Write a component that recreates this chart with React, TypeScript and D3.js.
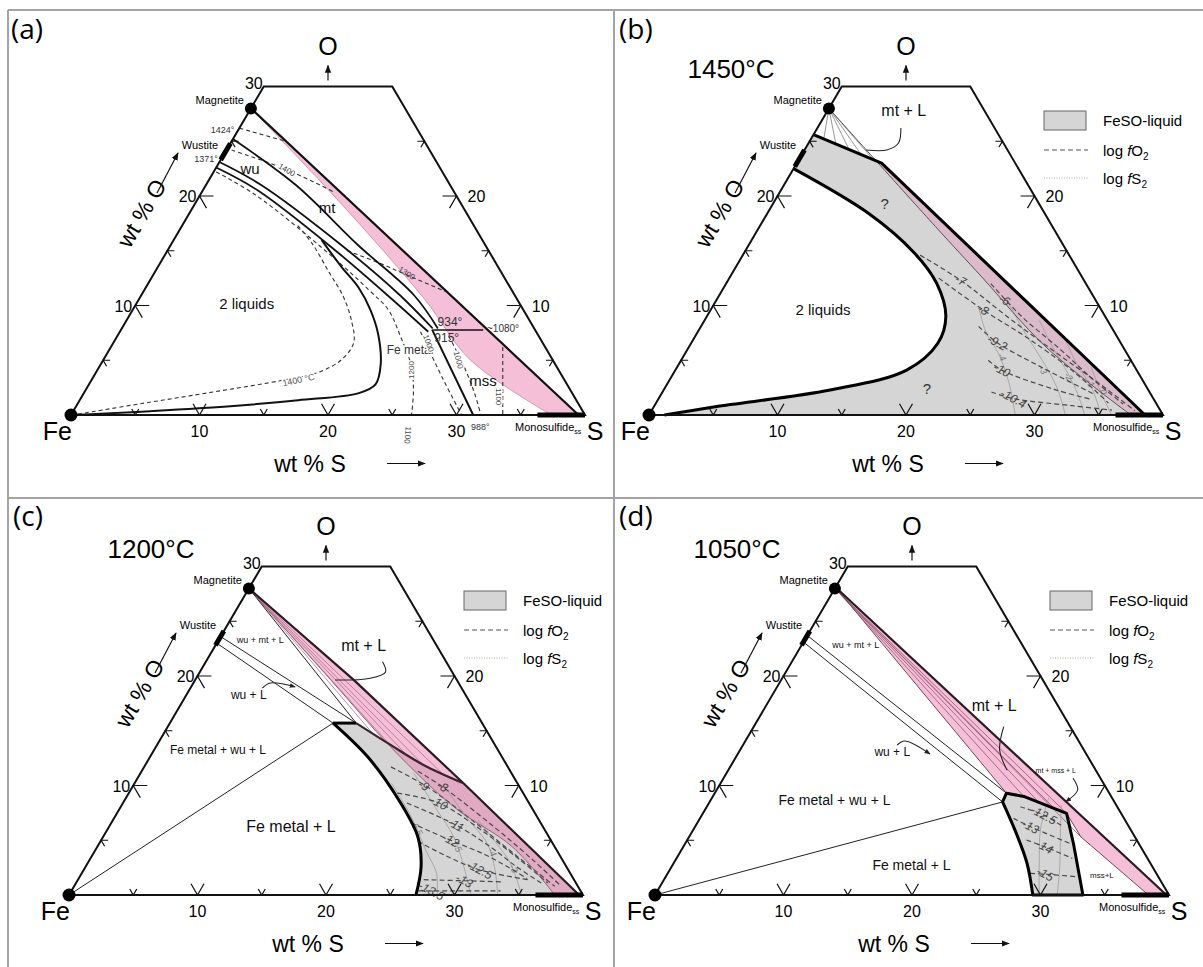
import React from 'react';
import * as d3 from 'd3';

type P = [number, number]; // [wt% S, wt% O]

// ===== shared ternary axes =====
const AXIS_MAX = 40;
const O_CUTOFF = 30;
const BASE_TICKS = [5, 10, 15, 20, 25, 30, 35];
const BASE_LABELS = [10, 20, 30];
const SIDE_TICKS = [5, 10, 15, 20, 25];
const SIDE_LABELS = [10, 20];
const FRAME: P[] = [[0, 0], [0, 30], [10, 30], [40, 0]];
const FE: P = [0, 0];
const S_CORNER: P = [40, 0];
const MAGNETITE: P = [0, 28];
const MSS_BAR: P[] = [[36.3, 0], [40, 0]];
const PANEL_LETTERS = ['(a)', '(b)', '(c)', '(d)'];
const PANEL_TITLES = ['', '1450°C', '1200°C', '1050°C'];

// ===== panel (a) =====
const A_WUSTITE: P[] = [[0, 23.3], [0, 24.8]];
const A_PINK_UPPER: P[] = [[0, 28], [39.5, 0]];
const A_PINK_LOWER: P[] = [[0, 28], [11.5, 19.2], [22.2, 10.6], [28.6, 5], [37.4, 0]];
const A_WU_MT: P[] = [[0, 25.2], [7, 21], [14.6, 15.5], [21.2, 10.96], [24.6, 7.9]];
const A_WU_1: P[] = [[0, 23.1], [4.3, 21], [13.3, 15.5], [20.1, 10.96], [24.2, 7.9]];
const A_WU_2: P[] = [[0, 22.6], [4.3, 20.5], [13.1, 15.0], [19.8, 10.5], [24.0, 7.6]];
const A_TWO_LIQ: P[] = [[11.5, 16.0], [14.2, 13.6], [16.6, 11.6], [18.5, 9.6], [20.2, 7.4], [21.8, 4.6], [22.3, 2.8], [21.4, 2.0], [17, 1.35], [12, 0.8], [6, 0.35], [1.5, 0.08], [0, 0]];
const A_COTECTIC: P[] = [[24.2, 7.8], [31.3, 0]];
const A_TIE_934: P[] = [[24.3, 7.76], [28.2, 7.76]];
const A_ISO_1424: P[] = [[0, 26.2], [4.2, 25.0]];
const A_ISO_1400_TOP: P[] = [[0.4, 24.2], [5.6, 22.4], [10.2, 20.4]];
const A_ISO_1400_IN: P[] = [[9, 17.3], [11, 15.6], [13.6, 13.0], [15.8, 10.8], [17.6, 8.5], [18.7, 6.6], [18.5, 5.0], [17.3, 3.9], [15, 3.2], [10, 2.1], [5, 1.05], [0.5, 0.08]];
const A_ISO_1300: P[] = [[14, 15.0], [17, 13.9], [19.7, 12.8], [23.7, 11.2]];
const A_ISO_1200: P[] = [[0.2, 22.2], [4.3, 20.1], [12.9, 14.6], [17.5, 11.4], [19.9, 9.6], [21.95, 7.3], [24.3, 4.4], [25.6, 2.1], [26.5, 0]];
const A_ISO_1000_L: P[] = [[23.4, 7.6], [27.2, 3.4], [30.4, 0]];
const A_ISO_1000_R: P[] = [[25.8, 7.2], [28.4, 4.4], [30.4, 2.0], [31.9, 0]];
const A_ISO_1100: P[] = [[30.5, 6.2], [33.6, 0]];

// ===== panel (b) 1450 °C =====
const B_WUSTITE: P[] = [[0, 22.7], [0, 24.2]];
const B_LIQ_TOP: P[] = [[0, 25.6], [6.6, 23.0], [38.6, 0]];
const B_PINK_LOWER: P[] = [[0, 28], [13.7, 17.2], [19.6, 12.6], [27.8, 6.2], [37.5, 0]];
const B_TIE_ENDS: P[] = [[1.0, 25.2], [2.2, 24.7], [3.4, 24.3], [4.6, 23.8], [5.7, 23.4]];
const B_TWO_LIQ: P[] = [[0, 22.5], [7.9, 18.4], [13.25, 14.8], [16.4, 12], [18.6, 9], [19.2, 6.55], [18, 4.1], [12.95, 2.28], [4.77, 0.76], [1.2, 0]];
const B_FO2_VALUES = ['-6', '-7', '-8', '-9.2', '-10', '-10.4'];
const B_FO2_LINES: P[][] = [
  [[20.6, 12.0], [24.5, 9.0], [29, 6.0], [33, 3.2], [36.4, 1.0]],
  [[13.8, 14.6], [18.1, 12.3], [24, 8.6], [30, 5.0], [33.4, 3.0], [37.6, 0.4]],
  [[16.3, 12.5], [21.2, 9.6], [26, 7.0], [31, 4.0], [35.2, 1.1]],
  [[21.6, 8.1], [23.8, 6.6], [28.5, 4.3], [33.7, 1.9]],
  [[23.9, 5.0], [25.4, 4.1], [30.5, 2.3], [33.8, 1.4]],
  [[25.6, 2.1], [27.6, 1.5], [32.5, 0.85], [35.8, 0.45]],
];
const B_FO2_LABEL_AT: P[] = [[22.4, 10.5], [18.1, 12.3], [21.2, 9.6], [23.8, 6.6], [25.4, 4.1], [27.6, 1.5]];
const B_FS2_VALUES = ['-4', '-3', '-2', '-1', '0'];
const B_FS2_LINES: P[][] = [
  [[20.9, 9.6], [22.5, 7.5], [24.4, 5.6], [26.5, 3], [28.5, 0]],
  [[22.9, 10.2], [25.5, 7.5], [28.1, 5.0], [30.5, 2.5], [32.4, 0]],
  [[26, 8.7], [28.5, 6], [30.7, 3.8], [32.5, 1.8], [33.9, 0]],
  [[29, 6.85], [31, 4.6], [33.1, 2.6], [35.2, 0]],
  [[32.2, 4.4], [34.2, 2], [36, 0]],
];
const B_FS2_LABEL_AT: P[] = [[24.8, 5.3], [28.6, 4.1], [30.9, 3.5], [32.9, 2.9], [34.3, 2.1]];
const B_LEADER: P[] = [[6.5, 26.2], [7.0, 24.84], [6.4, 24.2], [4.8, 24.2]];

// ===== panel (c) 1200 °C =====
const C_WUSTITE: P[] = [[0, 22.8], [0, 24.1]];
const C_PINK_UPPER: P[] = [[0, 28], [12.4, 19.6], [25.6, 10.2], [39.7, 0]];
const C_PINK_LOWER: P[] = [[0, 28], [10.6, 19.6], [18.3, 13.5], [26, 8], [32.3, 4.4], [37.8, 0]];
const C_LIQ_TOP: P[] = [[12.7, 15.7], [14.5, 15.7]];
const C_LIQ_RIGHT: P[] = [[14.5, 15.7], [18, 13.8], [21.6, 11.9], [25.6, 10.2]];
const C_LIQ_LEFT: P[] = [[12.7, 15.7], [16.96, 12.6], [21.3, 8.7], [24.5, 5.3], [26.1, 2.6], [27.0, 0]];
const C_TIES: P[][] = [
  [[0, 0], [12.7, 15.7]],
  [[0, 23.0], [12.7, 15.7]],
  [[0, 23.6], [14.5, 15.7]],
  [[0, 28], [14.5, 15.7]],
];
const C_MT_FAN: P[] = [[16.2, 14.8], [18, 13.8], [19.8, 12.85], [21.6, 11.9], [23.5, 11.1]];
const C_FO2_VALUES = ['-8', '-9', '-10', '-11', '-12', '-12.5', '-13', '-13.5'];
const C_FO2_LINES: P[][] = [
  [[21.5, 11.3], [24.1, 9.9], [30, 6.2], [34.5, 3.2], [37.9, 0.8]],
  [[19.2, 11.7], [22.9, 9.9], [28, 6.8], [33, 3.6], [37.4, 0.8]],
  [[20.9, 9.3], [24.6, 8.4], [29, 6], [33.5, 3.2], [36.7, 1.1]],
  [[22.1, 8.4], [26.9, 6.4], [30.6, 4.4], [33.5, 2.6], [36.2, 1.1]],
  [[23.3, 6.6], [27.2, 5.0], [30.5, 3.7], [32.8, 2.6], [34.9, 1.5]],
  [[24.7, 4.9], [27.5, 3.6], [30.8, 2.3], [35.0, 1.4]],
  [[26.9, 1.4], [30.1, 1.3], [33.2, 1.2]],
  [[27.0, 0.37], [28.2, 0.37], [33.4, 0.37]],
];
const C_FO2_LABEL_AT: P[] = [[24.1, 9.9], [22.6, 10.0], [24.6, 8.4], [26.9, 6.4], [27.2, 5.0], [30.8, 2.3], [30.1, 1.3], [28.0, 0.37]];
const C_FS2_VALUES = ['-5.5', '-5', '-4', '-3'];
const C_FS2_LINES: P[][] = [
  [[20.0, 10.2], [23.2, 7.0], [25.8, 4.0], [27.6, 2.0], [28.6, 0.1]],
  [[21.3, 11.1], [24.5, 8], [27.3, 5.3], [29.5, 2.5], [31.2, 0.1]],
  [[24.6, 9.6], [27.5, 7], [30.2, 4.7], [32, 2.3], [33.3, 0.1]],
  [[28.4, 6.85], [30.8, 4.8], [32.9, 2.9], [35.15, 0.1]],
];
const C_FS2_LABEL_AT: P[] = [[24.0, 6.1], [28.1, 4.3], [31.0, 3.9], [33.4, 2.4]];
const C_MT_LEADER: P[] = [[13.75, 21.3], [14.45, 20.37], [13.56, 19.8], [10.9, 19.63]];
const C_WU_LEADER: P[] = [[5.6, 18.9], [5.99, 19.36], [8.1, 19.0]];

// ===== panel (d) 1050 °C =====
const D_WUSTITE: P[] = [[0, 22.8], [0, 24.1]];
const D_PINK_UPPER: P[] = [[0, 28.1], [39.8, 0]];
const D_PINK_LOWER: P[] = [[0, 28.1], [22.7, 9.3], [24.2, 9.0], [28.3, 7.46], [30.5, 5.3], [38.4, 0]];
const D_LIQ_OUTER: P[] = [[22.8, 8.5], [22.7, 9.3], [24.2, 9.0], [28.3, 7.46], [30.2, 4.72], [33.3, 0]];
const D_LIQ_LEFT: P[] = [[29.4, 0], [27.5, 2.9], [25.3, 5.63], [22.8, 8.5]];
const D_TIES: P[][] = [
  [[0, 0], [22.8, 8.5]],
  [[0, 23.1], [22.8, 8.5]],
  [[0, 23.7], [22.7, 9.3]],
];
const D_MT_FAN: P[] = [[24.2, 9.0], [25.6, 8.5], [27, 8.0], [28.3, 7.46], [30.5, 5.3]];
const D_FO2_VALUES = ['-12.5', '-13', '-14', '-15'];
const D_FO2_LINES: P[][] = [
  [[24.4, 8.06], [26.6, 7.3], [28.65, 6.24]],
  [[24.4, 7.0], [26.1, 6.24], [29.9, 4.72]],
  [[26.4, 5.02], [28.1, 4.41], [30.8, 3.35]],
  [[28.2, 1.98], [29.4, 1.9], [32.0, 1.67]],
];
const D_FO2_LABEL_AT: P[] = [[26.6, 7.3], [26.1, 6.24], [28.1, 4.41], [29.4, 1.9]];
const D_FS2_LINES: P[][] = [
  [[26.2, 8.9], [27, 6], [28.4, 3], [29.9, 0]],
  [[27.5, 8.2], [28.8, 5.5], [30.2, 2.6], [31.3, 0]],
];
const D_MT_LEADER: P[] = [[19.45, 15.37], [20.2, 13.24], [21.7, 11.4]];
const D_MSS_LEADER: P[] = [[27.2, 10.66], [28.1, 9.59], [27.7, 8.52]];
const D_WU_LEADER: P[] = [[12.0, 13.7], [12.4, 14.06], [14.96, 12.88]];

// ===== layout / style =====
const W = 514;
const H = 438;
const ORIGINS: [number, number][] = [[71, 415], [649, 415], [69, 895], [655, 895]];
const LETTER_POS: [number, number][] = [[11, 39], [619, 39], [13, 526], [619, 526]];
const FONT = "'Liberation Sans', Arial, Helvetica, sans-serif";
const GREY = '#d5d5d5';
const PINK = 'rgb(236,128,178)';
const CR = d3.curveCatmullRom.alpha(0.5);

function makeT(ox: number, oy: number) {
  const xs = d3.scaleLinear().domain([0, AXIS_MAX]).range([ox, ox + W]);
  const ys = d3.scaleLinear().domain([0, AXIS_MAX]).range([oy, oy - H]);
  const pt = (p: P): [number, number] => [xs(p[0] + p[1] / 2), ys(p[1])];
  const path = (pts: P[], curve: any = d3.curveLinear) =>
    d3.line<P>().x(d => pt(d)[0]).y(d => pt(d)[1]).curve(curve)(pts) || '';
  const poly = (...parts: [P[], any?][]) =>
    parts.map(([pts, c], i) => { const s = path(pts, c || d3.curveLinear); return i ? 'L' + s.slice(1) : s; }).join('') + 'Z';
  return { pt, path, poly, ox, oy };
}

const rev = (a: P[]) => a.slice().reverse();

function Label({ x, y, children, size = 12, anchor = 'middle', rotate = 0, fill = '#111', italic = false, halo }: any) {
  return (
    <text x={x} y={y} fontSize={size} textAnchor={anchor} dominantBaseline="central" fill={fill}
      fontStyle={italic ? 'italic' : 'normal'} fontFamily={FONT}
      transform={rotate ? `rotate(${rotate},${x},${y})` : undefined}
      stroke={halo || 'none'} strokeWidth={halo ? 3 : 0} paintOrder="stroke">
      {children}
    </text>
  );
}

function Axes({ T, idx, wustite }: any) {
  const { ox, oy } = T;
  const top = T.pt([0, O_CUTOFF]);
  const apexX = T.pt([0, AXIS_MAX])[0];
  const sC = T.pt(S_CORNER);
  const fe = T.pt(FE);
  const mag = T.pt(MAGNETITE);
  const ang = Math.atan2(fe[1] - top[1], top[0] - fe[0]) * 180 / Math.PI;
  const ticks: string[] = [];
  BASE_TICKS.forEach(v => {
    const [x, y] = T.pt([v, 0]);
    const l = BASE_LABELS.includes(v) ? 13 : 7;
    ticks.push(`M${x - l * 0.5},${y - l * 0.866}L${x},${y}L${x + l * 0.5},${y - l * 0.866}`);
  });
  SIDE_TICKS.forEach(v => {
    const l = SIDE_LABELS.includes(v) ? 14 : 7;
    const [x, y] = T.pt([0, v]);
    ticks.push(`M${x + l},${y}L${x},${y}L${x + l * 0.5},${y + l * 0.866}`);
    const [x2, y2] = T.pt([AXIS_MAX - v, v]);
    ticks.push(`M${x2 - l},${y2}L${x2},${y2}L${x2 - l * 0.5},${y2 + l * 0.866}`);
  });
  const lx = LETTER_POS[idx];
  return (
    <g>
      <path d={T.poly([FRAME])} fill="none" stroke="#111" strokeWidth={2} strokeLinejoin="miter" />
      <path d={ticks.join('')} fill="none" stroke="#111" strokeWidth={1.2} />
      <path d={T.path(MSS_BAR)} stroke="#000" strokeWidth={5} />
      <path d={T.path(wustite)} stroke="#000" strokeWidth={5} />
      {BASE_LABELS.map(v => { const [x, y] = T.pt([v, 0]); return <text key={'b' + v} x={x} y={y + 22} fontSize={16} textAnchor="middle" fontFamily={FONT}>{v}</text>; })}
      {SIDE_LABELS.map(v => { const [x, y] = T.pt([0, v]); return <text key={'l' + v} x={x - 3} y={y + 6} fontSize={16} textAnchor="end" fontFamily={FONT}>{v}</text>; })}
      {SIDE_LABELS.map(v => { const [x, y] = T.pt([AXIS_MAX - v, v]); return <text key={'r' + v} x={x + 11} y={y + 6} fontSize={16} textAnchor="start" fontFamily={FONT}>{v}</text>; })}
      <text x={top[0] - 1} y={top[1] + 2} fontSize={16} textAnchor="end" fontFamily={FONT}>{O_CUTOFF}</text>
      <text x={apexX} y={top[1] - 31.5} fontSize={25} textAnchor="middle" fontFamily={FONT}>O</text>
      <line x1={apexX} y1={top[1] - 6} x2={apexX} y2={top[1] - 21} stroke="#111" strokeWidth={1.2} markerEnd="url(#arr)" />
      <text x={fe[0] - 13.6} y={oy + 25} fontSize={25} textAnchor="middle" fontFamily={FONT}>Fe</text>
      <text x={sC[0] + 10} y={oy + 25} fontSize={25} textAnchor="middle" fontFamily={FONT}>S</text>
      <text x={ox + 239} y={oy + 56.5} fontSize={23} textAnchor="middle" fontFamily={FONT}>wt % S</text>
      <line x1={ox + 316} y1={oy + 48.5} x2={ox + 354} y2={oy + 48.5} stroke="#111" strokeWidth={1.2} markerEnd="url(#arr)" />
      <text x={ox + 70.6} y={oy - 201.7} fontSize={23} textAnchor="middle" dominantBaseline="central" fontFamily={FONT}
        transform={`rotate(${-ang},${ox + 70.6},${oy - 201.7})`}>wt % O</text>
      <line x1={ox + 86} y1={oy - 222} x2={ox + 107} y2={oy - 262} stroke="#111" strokeWidth={1.2} markerEnd="url(#arr)" />
      <text x={sC[0] - 70} y={oy + 16} fontSize={11} fontFamily={FONT}>Monosulfide<tspan fontSize={7} dy={3}>ss</tspan></text>
      <circle cx={mag[0]} cy={mag[1]} r={6} fill="#000" />
      <circle cx={fe[0]} cy={fe[1]} r={6.5} fill="#000" />
      <text x={mag[0] - 7} y={mag[1] - 4} fontSize={11} textAnchor="end" fontFamily={FONT}>Magnetite</text>
      <text x={ox + 129} y={oy - 270} fontSize={11} textAnchor="middle" dominantBaseline="central" fontFamily={FONT}>Wustite</text>
      <text x={lx[0]} y={lx[1]} fontSize={28} fontFamily="'Open Sans', sans-serif">{PANEL_LETTERS[idx]}</text>
      {PANEL_TITLES[idx] && <text x={ox + 82} y={oy - 337.5} fontSize={26} textAnchor="middle" fontFamily={FONT}>{PANEL_TITLES[idx]}</text>}
    </g>
  );
}

function Legend({ T }: any) {
  const { ox, oy } = T;
  return (
    <g fontFamily={FONT} fontSize={15}>
      <rect x={ox + 395} y={oy - 304} width={42} height={19} fill={GREY} stroke="#666" strokeWidth={1} />
      <text x={ox + 454} y={oy - 289.5}>FeSO-liquid</text>
      <line x1={ox + 395} x2={ox + 439} y1={oy - 265} y2={oy - 265} stroke="#555" strokeWidth={1.2} strokeDasharray="5 3" />
      <text x={ox + 454} y={oy - 259.5}>log <tspan fontStyle="italic">f</tspan>O<tspan fontSize={10} dy={4}>2</tspan></text>
      <line x1={ox + 395} x2={ox + 439} y1={oy - 237} y2={oy - 237} stroke="#aaa" strokeWidth={1} strokeDasharray="1 1.5" />
      <text x={ox + 454} y={oy - 231.5}>log <tspan fontStyle="italic">f</tspan>S<tspan fontSize={10} dy={4}>2</tspan></text>
    </g>
  );
}

function Contours({ T, lines, values, labelAt, halo, dashed }: any) {
  return (
    <g>
      {lines.map((l: P[], i: number) => (
        <path key={'l' + i} d={T.path(l, CR)} fill="none"
          stroke={dashed ? '#4a4a4a' : '#9c9c9c'} strokeWidth={dashed ? 1.2 : 0.8}
          strokeDasharray={dashed ? '5 3' : undefined} />
      ))}
      {values && values.map((v: string, i: number) => {
        const [x, y] = T.pt(labelAt[i]);
        return <Label key={'t' + i} x={x} y={y} size={dashed ? 12 : 9} italic fill={dashed ? '#444' : '#777'}
          rotate={dashed ? 28 : 60} halo={halo}>{v}</Label>;
      })}
    </g>
  );
}

function PanelA({ T }: any) {
  const { ox, oy } = T;
  const dash = { fill: 'none', stroke: '#333', strokeWidth: 1.1, strokeDasharray: '4 3' };
  const at = (dx: number, dy: number) => ({ x: ox + dx, y: oy + dy });
  return (
    <g>
      <path d={T.poly([A_PINK_UPPER], [rev(A_PINK_LOWER), CR])} fill={PINK} fillOpacity={0.5} />
      <path d={T.path(A_PINK_LOWER, CR)} fill="none" stroke="#c7889f" strokeWidth={0.8} />
      <path d={T.path(A_ISO_1424)} {...dash} />
      <path d={T.path(A_ISO_1400_TOP, CR)} {...dash} />
      <path d={T.path(A_ISO_1400_IN, CR)} {...dash} />
      <path d={T.path(A_ISO_1300, CR)} {...dash} />
      <path d={T.path(A_ISO_1200, CR)} {...dash} />
      <path d={T.path(A_ISO_1000_L, CR)} {...dash} />
      <path d={T.path(A_ISO_1000_R, CR)} {...dash} />
      <path d={T.path(A_ISO_1100)} {...dash} />
      <path d={T.path(A_PINK_UPPER)} fill="none" stroke="#111" strokeWidth={2.2} />
      <path d={T.path(A_WU_MT, CR)} fill="none" stroke="#111" strokeWidth={1.8} />
      <path d={T.path(A_WU_1, CR)} fill="none" stroke="#111" strokeWidth={1.8} />
      <path d={T.path(A_WU_2, CR)} fill="none" stroke="#111" strokeWidth={1.8} />
      <path d={T.path(A_TWO_LIQ, CR)} fill="none" stroke="#111" strokeWidth={2} />
      <path d={T.path(A_COTECTIC)} fill="none" stroke="#111" strokeWidth={2} />
      <path d={T.path(A_TIE_934)} fill="none" stroke="#111" strokeWidth={1.6} />
      <Label {...at(179, -246.7)} size={15}>wu</Label>
      <Label {...at(256, -208)} size={15}>mt</Label>
      <Label {...at(175.7, -111.7)} size={15}>2 liquids</Label>
      <Label {...at(339, -65)} size={12} fill="#333" halo="#fff">Fe metal</Label>
      <Label {...at(379, -93.3)} size={12} fill="#333">934°</Label>
      <Label {...at(375.7, -76.7)} size={12} fill="#333">915°</Label>
      <Label {...at(416, -86.7)} size={10} anchor="start" fill="#333">~1080°</Label>
      <Label {...at(412, -35)} size={15}>mss</Label>
      <Label {...at(151.5, -285)} size={9} fill="#333">1424°</Label>
      <Label {...at(135, -256)} size={9} fill="#333">1371°</Label>
      <Label {...at(227.5, -35)} size={9} fill="#555" rotate={-12} halo="#fff">1400 °C</Label>
      <Label {...at(215.7, -245)} size={8} fill="#444" rotate={30} halo="#fff">1400</Label>
      <Label {...at(335.7, -141.7)} size={8} fill="#444" rotate={33}>1300</Label>
      <Label {...at(340.7, -45)} size={8} fill="#444" rotate={-90} halo="#fff">1200</Label>
      <Label {...at(336.6, 20)} size={8} fill="#444" rotate={95}>1100</Label>
      <Label {...at(357.3, -71.7)} size={8} fill="#444" rotate={70} halo="#fff">1000</Label>
      <Label {...at(387.3, -55)} size={8} fill="#444" rotate={75} halo="#fff">1000</Label>
      <Label {...at(427.3, -18.3)} size={8} fill="#444" rotate={90} halo="#fff">1100</Label>
      <text x={ox + 400} y={oy + 15} fontSize={9} fontFamily={FONT} fill="#333">988°</text>
    </g>
  );
}

function PanelB({ T }: any) {
  const { ox, oy } = T;
  const at = (dx: number, dy: number) => ({ x: ox + dx, y: oy + dy });
  const oTop = B_LIQ_TOP[1][1];
  const k = (MAGNETITE[1] - oTop) / (MAGNETITE[1] - B_PINK_LOWER[1][1]);
  const pinkStart: P = [B_PINK_LOWER[1][0] * k, oTop];
  const pinkLower: P[] = [pinkStart, ...B_PINK_LOWER.slice(1)];
  const mag = MAGNETITE;
  return (
    <g>
      <path d={T.poly([B_LIQ_TOP], [rev(B_TWO_LIQ), CR])} fill={GREY} />
      <path d={T.poly([B_LIQ_TOP.slice(1)], [rev(pinkLower), CR])} fill={PINK} fillOpacity={0.3} />
      <Contours T={T} lines={B_FS2_LINES} values={B_FS2_VALUES} labelAt={B_FS2_LABEL_AT} />
      <Contours T={T} lines={B_FO2_LINES} values={B_FO2_VALUES} labelAt={B_FO2_LABEL_AT} dashed />
      {B_TIE_ENDS.map((e, i) => <path key={i} d={T.path([mag, e])} stroke="#8a8a8a" strokeWidth={0.9} />)}
      <path d={T.path(B_PINK_LOWER, CR)} fill="none" stroke="#555" strokeWidth={1} />
      <path d={T.path(B_LIQ_TOP)} fill="none" stroke="#000" strokeWidth={3} strokeLinejoin="round" />
      <path d={T.path(B_TWO_LIQ, CR)} fill="none" stroke="#000" strokeWidth={3} />
      <path d={T.path(B_LEADER, CR)} fill="none" stroke="#222" strokeWidth={1.1} />
      <Label {...at(254.8, -305)} size={16}>mt + L</Label>
      <Label {...at(235.6, -211.7)} size={15} fill="#333">?</Label>
      <Label {...at(278, -26.7)} size={15} fill="#333">?</Label>
      <Label {...at(174, -105.7)} size={15}>2 liquids</Label>
      <Legend T={T} />
    </g>
  );
}

function PanelC({ T }: any) {
  const { ox, oy } = T;
  const at = (dx: number, dy: number) => ({ x: ox + dx, y: oy + dy });
  const sulfSide: P[] = C_PINK_UPPER.slice(2);
  return (
    <g>
      <path d={T.poly([C_LIQ_TOP], [C_LIQ_RIGHT, CR], [sulfSide], [rev(C_LIQ_LEFT), CR])} fill={GREY} />
      <path d={T.poly([C_PINK_UPPER], [rev(C_PINK_LOWER), CR])} fill={PINK} fillOpacity={0.5} />
      {C_MT_FAN.map((e, i) => <path key={i} d={T.path([MAGNETITE, e])} stroke="#b0708c" strokeWidth={0.8} />)}
      <Contours T={T} lines={C_FS2_LINES} values={C_FS2_VALUES} labelAt={C_FS2_LABEL_AT} />
      <Contours T={T} lines={C_FO2_LINES} values={C_FO2_VALUES} labelAt={C_FO2_LABEL_AT} dashed />
      {C_TIES.map((t, i) => <path key={i} d={T.path(t)} stroke="#222" strokeWidth={1} />)}
      <path d={T.path(C_PINK_LOWER, CR)} fill="none" stroke="#8a5a70" strokeWidth={0.9} />
      <path d={T.path(C_PINK_UPPER)} fill="none" stroke="#2a1a22" strokeWidth={2.2} strokeLinejoin="round" />
      <path d={T.path(C_LIQ_RIGHT, CR)} fill="none" stroke="#3a2430" strokeWidth={2.2} />
      <path d={T.path(C_LIQ_TOP)} fill="none" stroke="#000" strokeWidth={3} />
      <path d={T.path(C_LIQ_LEFT, CR)} fill="none" stroke="#000" strokeWidth={3} />
      <path d={T.path(C_MT_LEADER, CR)} fill="none" stroke="#222" strokeWidth={1.1} />
      <path d={T.path(C_WU_LEADER, CR)} fill="none" stroke="#222" strokeWidth={1.1} markerEnd="url(#arrs)" />
      <Label {...at(294.6, -250)} size={16}>mt + L</Label>
      <Label {...at(191.2, -255)} size={9}>wu + mt + L</Label>
      <Label {...at(179.8, -200)} size={12}>wu + L</Label>
      <Label {...at(149, -145)} size={12}>Fe metal + wu + L</Label>
      <Label {...at(221.9, -68.3)} size={16}>Fe metal + L</Label>
      <Legend T={T} />
    </g>
  );
}

function PanelD({ T }: any) {
  const { ox, oy } = T;
  const at = (dx: number, dy: number) => ({ x: ox + dx, y: oy + dy });
  const liq = T.poly([D_LIQ_OUTER], [D_LIQ_LEFT, CR]);
  return (
    <g>
      <path d={liq} fill={GREY} />
      <path d={T.poly([D_PINK_LOWER], [rev(D_PINK_UPPER)])} fill={PINK} fillOpacity={0.5} />
      {D_MT_FAN.map((e, i) => <path key={i} d={T.path([MAGNETITE, e])} stroke="#a0607c" strokeWidth={0.9} />)}
      <Contours T={T} lines={D_FS2_LINES} />
      <Contours T={T} lines={D_FO2_LINES} values={D_FO2_VALUES} labelAt={D_FO2_LABEL_AT} dashed />
      {D_TIES.map((t, i) => <path key={i} d={T.path(t)} stroke="#222" strokeWidth={1} />)}
      <path d={T.path(D_PINK_LOWER)} fill="none" stroke="#6a4a58" strokeWidth={1} />
      <path d={T.path(D_PINK_UPPER)} fill="none" stroke="#2a1a22" strokeWidth={2.2} />
      <path d={liq} fill="none" stroke="#000" strokeWidth={3} strokeLinejoin="round" />
      <path d={T.path(D_MT_LEADER, CR)} fill="none" stroke="#222" strokeWidth={1.1} />
      <path d={T.path(D_MSS_LEADER, CR)} fill="none" stroke="#222" strokeWidth={1.1} markerEnd="url(#arrs)" />
      <path d={T.path(D_WU_LEADER, CR)} fill="none" stroke="#222" strokeWidth={1.1} markerEnd="url(#arrs)" />
      <Label {...at(339.2, -190)} size={16}>mt + L</Label>
      <Label {...at(400.8, -125)} size={7}>mt + mss + L</Label>
      <Label {...at(200.8, -250)} size={9}>wu + mt + L</Label>
      <Label {...at(237.3, -143.3)} size={12}>wu + L</Label>
      <Label {...at(179.6, -95)} size={14}>Fe metal + wu + L</Label>
      <Label {...at(256.5, -30)} size={14}>Fe metal + L</Label>
      <Label {...at(446.9, -20)} size={8}>mss+L</Label>
      <Legend T={T} />
    </g>
  );
}

export default function App() {
  const Ts = ORIGINS.map(([x, y]) => makeT(x, y));
  const wus = [A_WUSTITE, B_WUSTITE, C_WUSTITE, D_WUSTITE];
  return (
    <svg width={1203} height={967} viewBox="0 0 1203 967" style={{ position: 'absolute', left: 0, top: 0, background: '#fff' }}>
      <defs>
        <marker id="arr" viewBox="0 0 10 10" refX="9" refY="5" markerWidth="8" markerHeight="8" markerUnits="userSpaceOnUse" orient="auto">
          <path d="M0,1L10,5L0,9z" fill="#111" />
        </marker>
        <marker id="arrs" viewBox="0 0 10 10" refX="9" refY="5" markerWidth="6" markerHeight="6" markerUnits="userSpaceOnUse" orient="auto">
          <path d="M0,1L10,5L0,9z" fill="#222" />
        </marker>
      </defs>
      <rect width={1203} height={967} fill="#fff" />
      <g stroke="#a3a3a3" strokeWidth={2}>
        <line x1={8} y1={10} x2={1203} y2={10} />
        <line x1={8} y1={498} x2={1203} y2={498} />
        <line x1={8} y1={10} x2={8} y2={967} />
        <line x1={614} y1={10} x2={614} y2={967} />
      </g>
      <PanelA T={Ts[0]} />
      <PanelB T={Ts[1]} />
      <PanelC T={Ts[2]} />
      <PanelD T={Ts[3]} />
      {Ts.map((T, i) => <Axes key={i} T={T} idx={i} wustite={wus[i]} />)}
    </svg>
  );
}
